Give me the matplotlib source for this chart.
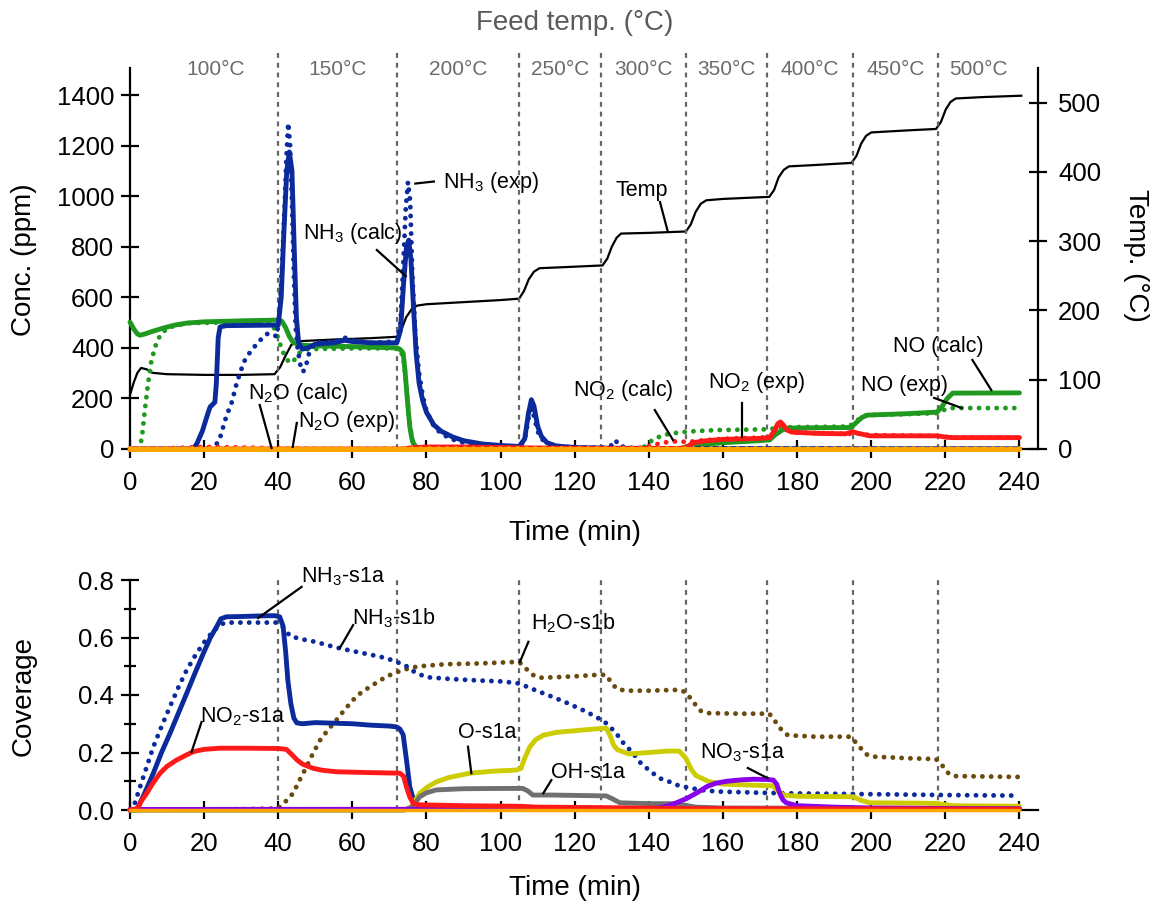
import numpy as np
import matplotlib
matplotlib.use('Agg')
import matplotlib.pyplot as plt
import matplotlib.transforms as mtransforms

plt.rcParams['font.family'] = ['Liberation Sans', 'DejaVu Sans']
plt.rcParams['mathtext.fontset'] = 'custom'
plt.rcParams['mathtext.rm'] = 'Liberation Sans'
plt.rcParams['mathtext.default'] = 'regular'

# ---- data (time in min, value) ----
# top panel: gas concentrations (ppm) and temperature (C)
temp = np.array([(0, 78), (1, 96), (2, 110), (3, 117), (4.5, 115), (6, 110), (10, 108), (20, 107), (30, 107),
                 (39, 108), (40.5, 118), (42, 135), (43.5, 150), (45, 155), (47, 156), (55, 158), (65, 160),
                 (72, 162), (73.2, 172), (74.5, 190), (76, 202), (77.5, 207), (80, 209), (90, 212), (100, 215),
                 (105, 217), (106.3, 228), (107.6, 245), (109, 256), (110.5, 261), (115, 262), (127.5, 265),
                 (128.8, 275), (130, 292), (131.3, 305), (132.5, 311), (140, 312), (150, 314), (151.3, 324),
                 (152.6, 342), (154, 354), (155.5, 359), (160, 361), (172.5, 364), (173.8, 374), (175, 392),
                 (176.4, 403), (177.8, 408), (185, 410), (194.7, 413), (196, 423), (197.3, 441), (198.6, 452),
                 (200, 457), (210, 460), (217.5, 462), (218.8, 472), (220.1, 490), (221.4, 501), (222.8, 506),
                 (230, 508), (240.5, 510)])

nh3_calc = np.array([(0, 0), (17, 0), (18, 20), (19.5, 70), (21, 140), (21.6, 166), (22.9, 185), (23.3, 260),
                     (23.8, 440), (24.3, 483), (26, 488), (40, 490), (40.8, 600), (41.5, 850), (42.3, 1100),
                     (43, 1175), (43.7, 1100), (44.3, 800), (44.9, 520), (45.5, 420), (46.5, 395), (48, 400),
                     (50, 415), (55, 420), (58, 430), (60, 425), (65, 420), (72, 420), (73, 470), (73.8, 650),
                     (74.6, 800), (75.2, 826), (75.8, 750), (76.5, 560), (77.2, 380), (78, 260), (79, 190),
                     (80, 145), (82, 95), (84, 70), (87, 48), (90, 33), (95, 20), (100, 14), (105, 10),
                     (106.5, 40), (107.5, 140), (108.3, 195), (109, 170), (110, 90), (111, 50), (112.5, 25),
                     (115, 12), (120, 6), (130, 3), (150, 2), (240, 1)])

nh3_exp = np.array([(0, 0), (18, 0), (21, 5), (23, 15), (24, 30), (25, 80), (26, 130), (27.4, 182), (28.8, 261),
                    (30.7, 344), (32.4, 383), (34.6, 423), (36.9, 455), (38.5, 455), (39.5, 445), (40.3, 520),
                    (41, 720), (41.7, 950), (42.2, 1150), (42.7, 1290), (43.2, 1200), (43.7, 980), (44.2, 700),
                    (44.7, 480), (45.3, 390), (46, 330), (46.7, 305), (47.5, 330), (48.5, 390), (50, 420),
                    (55, 425), (58, 440), (60, 430), (65, 420), (72, 425), (73, 500), (73.8, 750), (74.4, 950),
                    (75, 1056), (75.6, 980), (76.2, 680), (77, 450), (78, 300), (79, 210), (80, 150), (82, 90),
                    (84, 60), (87, 38), (90, 25), (95, 15), (100, 10), (105, 8), (106.5, 35), (107.5, 120),
                    (108.3, 160), (109, 130), (110, 70), (111, 40), (113, 20), (116, 10), (120, 6), (128, 5),
                    (130, 15), (131, 35), (132, 12), (135, 4), (140, 3), (240, 2)])

no_calc = np.array([(0, 502), (1, 475), (2, 455), (2.7, 450), (4, 455), (6, 465), (8.9, 478), (12, 490),
                    (15.3, 498), (20, 503), (30, 507), (40, 510), (41, 505), (42, 480), (43, 445), (44, 422),
                    (45.8, 411), (50, 408), (60, 405), (72, 400), (72.8, 395), (73.7, 380), (74.2, 310),
                    (74.7, 220), (75.1, 150), (75.5, 88), (76, 45), (76.4, 24), (77.2, 8), (78, 2), (80, 0),
                    (148, 0), (151.8, 15), (160, 25), (170, 33), (172.6, 36), (174, 55), (176, 75), (178, 83),
                    (194.5, 85), (196, 105), (197.5, 125), (199, 134), (210, 140), (217.8, 146), (219.2, 170),
                    (220.5, 200), (222, 221), (240, 222)])

no_exp = np.array([(0, 0), (2.5, 0), (3.2, 43), (4, 154), (4.9, 261), (5.8, 352), (7.2, 423), (8.5, 459),
                   (10.8, 482), (15.3, 498), (25, 500), (38, 500), (39.2, 470), (40.2, 430), (41, 391),
                   (42.4, 352), (43.5, 340), (44.5, 355), (46, 385), (48, 395), (60, 398), (72, 398),
                   (73.7, 370), (74.5, 260), (75.3, 120), (76.2, 30), (77, 5), (78, 0), (138, 0), (141, 36),
                   (143.8, 55), (147, 63), (150, 68), (153, 71), (158.6, 75), (172.6, 78), (174, 82), (177, 86),
                   (194, 89), (196, 110), (197.5, 128), (199, 134), (210, 138), (217.5, 142), (219, 150),
                   (220.5, 160), (222, 162), (240, 162)])

no2_calc = np.array([(0, 0), (74, 0), (76, 5), (80, 8), (90, 8), (100, 6), (110, 4), (130, 2), (148, 2),
                     (150, 5), (152, 25), (155, 32), (160, 38), (165, 40), (170, 42), (172.6, 45), (173.8, 70),
                     (174.8, 100), (175.5, 107), (176.3, 95), (177.3, 75), (178.5, 67), (185, 62), (193, 60),
                     (195, 68), (196.5, 62), (199.6, 52), (210, 52), (218, 52), (220, 47), (222, 45), (240, 45)])

no2_exp = np.array([(0, 0), (10, 3), (20, 8), (30, 6), (40, 3), (50, 2), (80, 2), (120, 3), (138, 5), (141, 15),
                    (143, 22), (146, 30), (148, 30), (150, 28), (152, 30), (155, 35), (160, 40), (170, 45),
                    (172.6, 47), (174, 75), (175.3, 100), (176.5, 85), (178.5, 65), (194, 60), (196, 62),
                    (199.6, 55), (218, 52), (220, 48), (222, 45), (240, 45)])

n2o_calc = np.array([(0, 0), (120, 0), (240, 0)])
n2o_exp = np.array([(0, 3), (120, 3), (240, 3)])

# bottom panel: surface coverages
nh3_s1a = np.array([(0, 0), (1.5, 0), (2.2, 0.01), (4, 0.06), (6.3, 0.128), (8.5, 0.2), (10.8, 0.267),
                    (13, 0.335), (15.3, 0.406), (17.5, 0.475), (19.8, 0.545), (21.7, 0.6), (23.4, 0.638),
                    (24.5, 0.665), (26, 0.672), (30, 0.673), (35, 0.675), (39, 0.676), (40.4, 0.672),
                    (41.3, 0.64), (42, 0.55), (42.6, 0.45), (43.4, 0.37), (44.2, 0.32), (45, 0.303),
                    (46.5, 0.3), (50, 0.304), (55, 0.302), (60, 0.3), (65, 0.295), (70, 0.292), (71.9, 0.289),
                    (72.8, 0.282), (73.7, 0.262), (74.6, 0.174), (75.5, 0.08), (76.4, 0.04), (77.3, 0.02),
                    (78.2, 0.01), (80, 0.005), (90, 0.003), (240, 0.002)])

nh3_s1b = np.array([(0, 0), (1.2, 0.02), (2.7, 0.08), (4.5, 0.15), (6.3, 0.22), (8.5, 0.29), (10.8, 0.36),
                    (13, 0.425), (15.3, 0.487), (17.5, 0.535), (19.8, 0.58), (22, 0.615), (24.3, 0.645),
                    (26, 0.652), (30, 0.652), (35, 0.652), (39.5, 0.652), (41, 0.64), (43.2, 0.605),
                    (46, 0.595), (50, 0.585), (55.7, 0.565), (60, 0.553), (65, 0.54), (69.2, 0.528),
                    (72, 0.515), (74.6, 0.5), (77, 0.478), (80, 0.462), (87.2, 0.455), (95, 0.45),
                    (100.7, 0.447), (105, 0.44), (109.7, 0.415), (114.1, 0.393), (118, 0.372), (123.1, 0.342),
                    (126, 0.322), (128.5, 0.302), (131, 0.27), (133, 0.235), (135.7, 0.198), (138, 0.16),
                    (141.1, 0.128), (143, 0.11), (145.6, 0.098), (148, 0.085), (151.8, 0.075), (155, 0.068),
                    (159, 0.064), (170, 0.06), (177, 0.058), (200, 0.055), (220, 0.052), (240, 0.05)])

h2o_s1b = np.array([(0, 0), (10, 0), (20, 0.002), (30, 0.003), (38, 0.005), (40.4, 0.01), (42, 0.03),
                    (44, 0.058), (46, 0.11), (47.6, 0.15), (49.5, 0.2), (51.3, 0.243), (53.5, 0.28),
                    (55.7, 0.313), (58, 0.35), (60.2, 0.383), (62.5, 0.41), (64.7, 0.428), (67, 0.447),
                    (69.2, 0.464), (71.5, 0.477), (73.7, 0.487), (76, 0.495), (78.2, 0.5), (85, 0.507),
                    (95, 0.51), (104, 0.515), (105.5, 0.51), (107, 0.49), (108.7, 0.47), (110.5, 0.46),
                    (115, 0.462), (120, 0.465), (126, 0.47), (128.5, 0.47), (130, 0.44), (131.5, 0.42),
                    (134, 0.415), (140, 0.415), (148, 0.418), (150, 0.41), (152, 0.375), (154, 0.345),
                    (155.5, 0.337), (165, 0.335), (172.5, 0.335), (174, 0.31), (176, 0.275), (177.5, 0.26),
                    (185, 0.255), (194.5, 0.255), (196.5, 0.225), (198.5, 0.195), (200, 0.186), (210, 0.18),
                    (217.5, 0.177), (219.5, 0.15), (221, 0.125), (222.5, 0.118), (240, 0.115)])

no2_s1a = np.array([(0, 0), (2, 0.005), (3, 0.03), (4.5, 0.058), (6, 0.09), (8.1, 0.128), (10, 0.152),
                    (12.6, 0.174), (15, 0.19), (17.1, 0.203), (20, 0.211), (24.3, 0.215), (30, 0.215),
                    (40, 0.214), (42.2, 0.211), (43.5, 0.195), (45, 0.175), (46.5, 0.16), (49.4, 0.145),
                    (52, 0.138), (55.7, 0.133), (65, 0.13), (72.8, 0.128), (73.8, 0.118), (74.6, 0.08),
                    (75.5, 0.045), (76.4, 0.023), (78, 0.018), (90, 0.015), (105, 0.013), (110, 0.01),
                    (130, 0.008), (150, 0.005), (240, 0.003)])

o_s1a = np.array([(0, 0), (74, 0), (76, 0.01), (77, 0.035), (78.2, 0.058), (80, 0.078), (82.7, 0.098),
                  (86, 0.113), (91.7, 0.128), (98, 0.135), (104.3, 0.139), (105.5, 0.145), (106.5, 0.18),
                  (107.9, 0.22), (109.5, 0.245), (111.5, 0.26), (115, 0.27), (122, 0.278), (128.5, 0.285),
                  (129.5, 0.26), (130.5, 0.225), (131.5, 0.21), (134.6, 0.195), (140, 0.2), (145, 0.205),
                  (148.2, 0.205), (150, 0.18), (151.5, 0.14), (152.7, 0.12), (156.3, 0.098), (160, 0.09),
                  (173.5, 0.084), (174.5, 0.07), (176.3, 0.052), (180, 0.048), (195.2, 0.046), (197, 0.035),
                  (199.6, 0.025), (210, 0.024), (217.5, 0.023), (222, 0.015), (240, 0.013)])

oh_s1a = np.array([(0, 0), (74, 0), (76, 0.01), (78.2, 0.046), (80, 0.06), (82.7, 0.07), (90, 0.074),
                   (100, 0.075), (106, 0.075), (107.5, 0.065), (108.7, 0.052), (114, 0.052), (128.5, 0.049),
                   (130, 0.04), (132.2, 0.025), (140, 0.022), (147.4, 0.022), (150, 0.016), (152.7, 0.01),
                   (160, 0.007), (240, 0.004)])

no3_s1a = np.array([(0, 0.002), (140, 0.003), (143, 0.008), (145.6, 0.016), (148, 0.028), (150.2, 0.04),
                    (153, 0.06), (155.6, 0.081), (158, 0.093), (161, 0.1), (165, 0.105), (168.2, 0.107),
                    (172, 0.106), (173.6, 0.104), (174.5, 0.09), (175.3, 0.058), (176.2, 0.035),
                    (177.1, 0.025), (180, 0.015), (190, 0.01), (200, 0.007), (240, 0.004)])

misc_s1a = np.array([(0, 0), (120, 0), (240, 0)])

# feed temperature steps
step_times = [40, 72, 105, 127, 150, 172, 195, 218]
feed_labels = ['100°C', '150°C', '200°C', '250°C', '300°C', '350°C', '400°C', '450°C', '500°C']
feed_label_x = [23, 56, 88.5, 116, 138.5, 161, 183.5, 206.5, 229]

# annotations: text, text pos, leader start, leader end
top_notes = [
    ('NH$_3$ (exp)', (84.5, 1056), (77, 1050), (82, 1058), 'left'),
    ('NH$_3$ (calc)', (60, 854), (66.6, 787), (74.4, 684), 'center'),
    ('N$_2$O (calc)', (45.3, 221), (35, 174), (38.2, 4), 'center'),
    ('N$_2$O (exp)', (58.5, 107), (45, 103), (43.9, 8), 'center'),
    ('Temp', (138, 1024), (143, 977), (145, 866), 'center'),
    ('NO$_2$ (calc)', (133, 233), (141.6, 154), (146.5, 36), 'center'),
    ('NO$_2$ (exp)', (169, 265), (165, 182), (165, 47), 'center'),
    ('NO (exp)', (209, 253), (217, 202), (224.4, 162), 'center'),
    ('NO (calc)', (218, 404), (227.3, 352), (232.4, 233), 'center'),
]
bot_notes = [
    ('NH$_3$-s1a', (57.5, 0.81), (46.3, 0.776), (34.6, 0.668)),
    ('NH$_3$-s1b', (71, 0.668), (60.2, 0.643), (56.6, 0.563)),
    ('NO$_2$-s1a', (30.5, 0.323), (19.3, 0.306), (16.6, 0.202)),
    ('H$_2$O-s1b', (119.5, 0.65), (107.5, 0.585), (105.2, 0.515)),
    ('O-s1a', (96.3, 0.268), (91.2, 0.22), (92.1, 0.128)),
    ('OH-s1a', (123.5, 0.132), (113.7, 0.104), (111.5, 0.058)),
    ('NO$_3$-s1a', (165.3, 0.2), (166.7, 0.146), (172, 0.111)),
]

BLUE = '#0b2a9c'
GREEN = '#1f9a1f'
RED = '#ff1a1a'
ORANGE = '#ffa500'
BROWN = '#6b4a0e'
YELLOW = '#cccc00'
GRAY = '#707070'
PURPLE = '#8a00e8'
DASH = '#666666'

TICK_FS = 18.5
LABEL_FS = 20


def solid(ax, d, color, lw=3.5, z=3):
    ax.plot(d[:, 0], d[:, 1], color=color, lw=lw, solid_capstyle='round',
            solid_joinstyle='round', clip_on=False, zorder=z)


def dotted(ax, d, color, lw=3.5, z=3):
    ax.plot(d[:, 0], d[:, 1], color=color, lw=lw, linestyle=(0, (0.01, 1.8)),
            dash_capstyle='round', clip_on=False, zorder=z)


fig = plt.figure(figsize=(11.5, 9.08), dpi=100)
W, H = 1150, 908
ax1 = fig.add_axes([130 / W, 1 - 449 / H, 908 / W, 381 / H])
ax2 = ax1.twinx()
ax3 = fig.add_axes([130 / W, 1 - 810 / H, 908 / W, 230 / H])

# ---------- top panel ----------
ax1.set_xlim(0, 245)
ax1.set_ylim(0, 1507)
ax2.set_ylim(0, 550)

for t in step_times:
    ax1.axvline(t, ymin=0, ymax=1.042, color=DASH, lw=1.6, ls=(0, (2.2, 2.2)), clip_on=False, zorder=1)

ax2.plot(temp[:, 0], temp[:, 1], color='black', lw=1.6, clip_on=False, zorder=2)

dotted(ax1, no_exp, GREEN, z=3)
solid(ax1, no_calc, GREEN, z=4)
dotted(ax1, nh3_exp, BLUE, z=5)
solid(ax1, nh3_calc, BLUE, z=5)
dotted(ax1, no2_exp, RED, z=6)
solid(ax1, no2_calc, RED, z=6)
solid(ax1, n2o_calc, ORANGE, z=7)
dotted(ax1, n2o_exp, ORANGE, z=7)

ax1.set_zorder(ax2.get_zorder() + 1)
ax1.patch.set_visible(False)

for txt, tp, a, b, ha in top_notes:
    ax1.plot([a[0], b[0]], [a[1], b[1]], color='black', lw=1.6, clip_on=False, zorder=8)
    ax1.text(tp[0], tp[1], txt, fontsize=15.5, ha=ha, va='center', zorder=9)

blend = mtransforms.blended_transform_factory(ax1.transData, ax1.transAxes)
for x, lab in zip(feed_label_x, feed_labels):
    ax1.text(x, 0.995, lab, transform=blend, fontsize=15, color='#6b6b6b', ha='center', va='center')
ax1.text(120, 1.118, 'Feed temp. (°C)', transform=blend, fontsize=20, color='#5a5a5a',
         ha='center', va='center')

for sp in ['top', 'right']:
    ax1.spines[sp].set_visible(False)
for sp in ['top', 'left', 'bottom']:
    ax2.spines[sp].set_visible(False)
for sp in ['left', 'bottom']:
    ax1.spines[sp].set_linewidth(1.6)
ax2.spines['right'].set_linewidth(1.6)

ax1.set_xticks(np.arange(0, 241, 20))
ax1.set_yticks(np.arange(0, 1401, 200))
ax2.set_yticks(np.arange(0, 501, 100))
ax1.tick_params(direction='inout', length=13, width=1.6, labelsize=TICK_FS)
ax1.tick_params(axis='x', pad=9)
ax1.tick_params(axis='y', pad=5)
ax2.tick_params(direction='inout', length=13, width=1.6, labelsize=TICK_FS, pad=8)

ax1.set_xlabel('Time (min)', fontsize=LABEL_FS)
ax1.xaxis.set_label_coords(0.49, -0.22)
ax1.xaxis.label.set_va('center')
ax1.set_ylabel('Conc. (ppm)', fontsize=LABEL_FS)
ax1.yaxis.set_label_coords(-0.117, 0.496)
ax1.yaxis.label.set_va('center')
ax2.set_ylabel('Temp. (°C)', fontsize=LABEL_FS, rotation=-90)
ax2.yaxis.set_label_coords(1.108, 0.507)
ax2.yaxis.label.set_va('center')

# ---------- bottom panel ----------
ax3.set_xlim(0, 245)
ax3.set_ylim(0, 0.8)
for t in step_times:
    ax3.axvline(t, ymin=0, ymax=1.01, color=DASH, lw=1.6, ls=(0, (2.2, 2.2)), clip_on=False, zorder=1)

dotted(ax3, h2o_s1b, BROWN, z=3)
dotted(ax3, nh3_s1b, BLUE, z=3)
solid(ax3, nh3_s1a, BLUE, z=4)
solid(ax3, o_s1a, YELLOW, z=4)
solid(ax3, oh_s1a, GRAY, z=4)
solid(ax3, no3_s1a, PURPLE, z=4)
solid(ax3, no2_s1a, RED, z=5)
solid(ax3, misc_s1a, ORANGE, lw=2.5, z=6)

for txt, tp, a, b in bot_notes:
    ax3.plot([a[0], b[0]], [a[1], b[1]], color='black', lw=1.6, clip_on=False, zorder=8)
    ax3.text(tp[0], tp[1], txt, fontsize=15.5, ha='center', va='center', zorder=9)

for sp in ['top', 'right']:
    ax3.spines[sp].set_visible(False)
for sp in ['left', 'bottom']:
    ax3.spines[sp].set_linewidth(1.6)
ax3.set_xticks(np.arange(0, 241, 20))
ax3.set_yticks(np.arange(0, 0.81, 0.2))
ax3.set_yticks(np.arange(0.1, 0.8, 0.2), minor=True)
ax3.set_yticklabels(['0.0', '0.2', '0.4', '0.6', '0.8'])
ax3.tick_params(direction='inout', length=13, width=1.6, labelsize=TICK_FS)
ax3.tick_params(which='minor', direction='inout', length=9, width=1.6)
ax3.tick_params(axis='x', pad=9)
ax3.tick_params(axis='y', pad=5)

ax3.set_xlabel('Time (min)', fontsize=LABEL_FS)
ax3.xaxis.set_label_coords(0.49, -0.339)
ax3.xaxis.label.set_va('center')
ax3.set_ylabel('Coverage', fontsize=LABEL_FS)
ax3.yaxis.set_label_coords(-0.117, 0.496)
ax3.yaxis.label.set_va('center')

fig.savefig('out.png', dpi=100)
